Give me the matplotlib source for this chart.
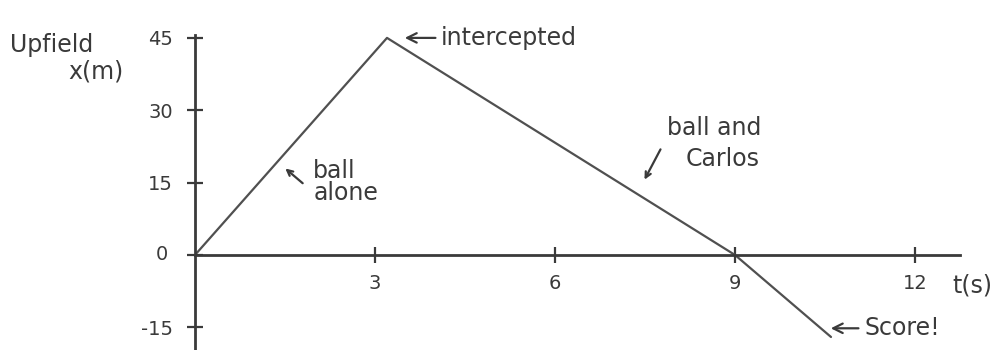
import matplotlib.pyplot as plt

# position of the ball (upfield) vs time
t_pts = [0, 3.2, 9, 10.6]
x_pts = [0, 45, 0, -17]

t_ticks = [3, 6, 9, 12]
x_ticks = [-15, 0, 15, 30, 45]

ink = '#3a3a3a'
plt.rcParams['font.family'] = ['DejaVu Sans']

fig = plt.figure(figsize=(10.07, 3.5), dpi=100)
ax = fig.add_axes([195 / 1007, 0, (960 - 195) / 1007, 1 - 35 / 350])
ax.set_xlim(0, 12.75)
ax.set_ylim(-19.7, 45.6)

ax.plot(t_pts, x_pts, color='#505050', lw=1.6, solid_capstyle='round')

# hand drawn looking axes through the origin
for s in ['top', 'right']:
    ax.spines[s].set_visible(False)
ax.spines['left'].set_position(('data', 0))
ax.spines['bottom'].set_position(('data', 0))
ax.spines['left'].set_color(ink)
ax.spines['bottom'].set_color(ink)
ax.spines['left'].set_linewidth(2)
ax.spines['bottom'].set_linewidth(2)

ax.set_xticks(t_ticks)
ax.set_yticks(x_ticks)
ax.set_yticklabels([str(v) for v in x_ticks])
ax.tick_params(direction='inout', length=12, width=1.6, color=ink,
               labelsize=14, labelcolor=ink)
ax.tick_params(axis='x', pad=8)
ax.tick_params(axis='y', pad=10)
for lbl in ax.get_yticklabels():
    if lbl.get_text() == '0':
        lbl.set_visible(False)
ax.text(-0.45, 0, '0', ha='right', va='center', fontsize=14, color=ink)

# axis labels
fig.text(10 / 1007, 1 - 45 / 350, 'Upfield', fontsize=17, color=ink, va='center')
fig.text(68 / 1007, 1 - 72 / 350, 'x(m)', fontsize=17, color=ink, va='center')
fig.text(952 / 1007, 1 - 285 / 350, 't(s)', fontsize=17, color=ink, va='center')

# annotations
arr = dict(arrowstyle='->', color=ink, lw=1.6)
ax.annotate('intercepted', xy=(3.45, 45), xytext=(4.1, 45), fontsize=17,
            color=ink, va='center', arrowprops=arr)

ax.annotate('', xy=(1.47, 18.3), xytext=(1.83, 14.5), arrowprops=arr)
ax.text(1.97, 15.2, 'ball\nalone', fontsize=17, color=ink, va='center',
        linespacing=0.9)

ax.annotate('', xy=(7.47, 15.1), xytext=(7.78, 22.4), arrowprops=arr)
ax.text(7.87, 26.3, 'ball and', fontsize=17, color=ink, va='center')
ax.text(8.17, 19.9, 'Carlos', fontsize=17, color=ink, va='center')

ax.annotate('Score!', xy=(10.55, -15.2), xytext=(11.15, -15.2), fontsize=17,
            color=ink, va='center', arrowprops=arr)

fig.savefig('out.png', dpi=100)
